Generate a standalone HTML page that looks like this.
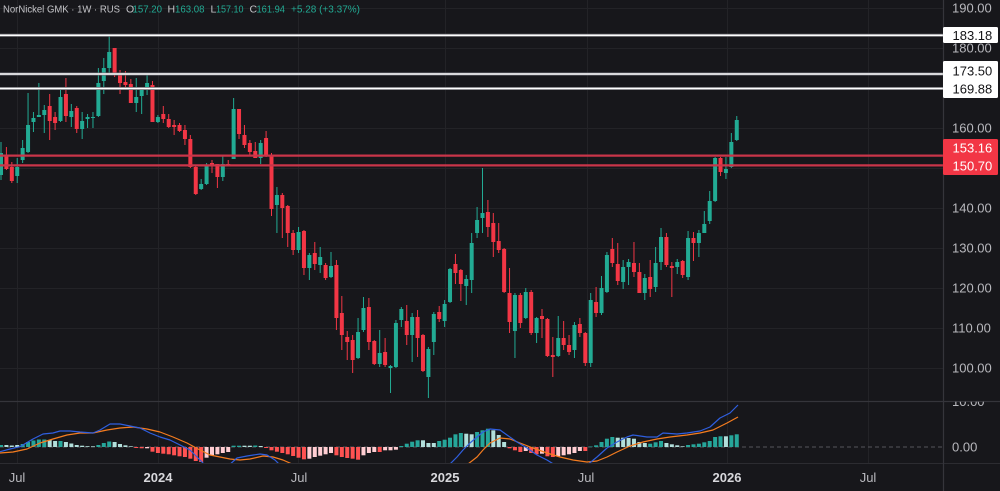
<!DOCTYPE html>
<html><head><meta charset="utf-8">
<style>
html,body{margin:0;padding:0;background:#17171b;width:1000px;height:491px;overflow:hidden}
svg{display:block;font-family:"Liberation Sans",sans-serif}
</style></head><body>
<svg id="c" width="1000" height="491" viewBox="0 0 1000 491" xmlns="http://www.w3.org/2000/svg">
<defs>
<clipPath id="main"><rect x="0" y="0" width="943" height="401"/></clipPath>
<clipPath id="macd"><rect x="0" y="401.5" width="943" height="61.5"/></clipPath>
<clipPath id="macdax"><rect x="944" y="401.8" width="56" height="61"/></clipPath>
</defs>
<rect width="1000" height="491" fill="#17171b"/>
<g stroke="#232327" stroke-width="1">
<line x1="0" y1="8.5" x2="943" y2="8.5"/>
<line x1="0" y1="48.5" x2="943" y2="48.5"/>
<line x1="0" y1="88.5" x2="943" y2="88.5"/>
<line x1="0" y1="128.5" x2="943" y2="128.5"/>
<line x1="0" y1="168.5" x2="943" y2="168.5"/>
<line x1="0" y1="208.5" x2="943" y2="208.5"/>
<line x1="0" y1="248.5" x2="943" y2="248.5"/>
<line x1="0" y1="288.5" x2="943" y2="288.5"/>
<line x1="0" y1="328.5" x2="943" y2="328.5"/>
<line x1="0" y1="368.5" x2="943" y2="368.5"/>
<line x1="17.5" y1="0" x2="17.5" y2="463"/>
<line x1="158.5" y1="0" x2="158.5" y2="463"/>
<line x1="298.5" y1="0" x2="298.5" y2="463"/>
<line x1="445.5" y1="0" x2="445.5" y2="463"/>
<line x1="587.5" y1="0" x2="587.5" y2="463"/>
<line x1="727.5" y1="0" x2="727.5" y2="463"/>
<line x1="868.5" y1="0" x2="868.5" y2="463"/>
</g>
<!-- zero line -->
<line x1="0" y1="447" x2="943" y2="447" stroke="#55555b" stroke-width="1" stroke-dasharray="4 3"/>

<g id="candles" clip-path="url(#main)"></g>

<!-- horizontal levels -->
<g>
<line x1="0" y1="35.3" x2="943" y2="35.3" stroke="#6a6a70" stroke-width="3"/>
<line x1="0" y1="35.3" x2="943" y2="35.3" stroke="#ffffff" stroke-width="1.6"/>
<line x1="0" y1="74" x2="943" y2="74" stroke="#6a6a70" stroke-width="3"/>
<line x1="0" y1="74" x2="943" y2="74" stroke="#ffffff" stroke-width="1.6"/>
<line x1="0" y1="88.5" x2="943" y2="88.5" stroke="#6a6a70" stroke-width="3"/>
<line x1="0" y1="88.5" x2="943" y2="88.5" stroke="#ffffff" stroke-width="1.6"/>
<line x1="0" y1="155.6" x2="943" y2="155.6" stroke="#c93549" stroke-width="2.2"/>
<line x1="0" y1="165.4" x2="943" y2="165.4" stroke="#c93549" stroke-width="2.2"/>
</g>

<g id="hist" clip-path="url(#macd)"></g>
<g id="lines" clip-path="url(#macd)" fill="none" stroke-width="1.2"></g>

<!-- separators -->
<line x1="0" y1="401.5" x2="1000" y2="401.5" stroke="#35353b" stroke-width="1.2"/>
<line x1="0" y1="463.5" x2="1000" y2="463.5" stroke="#2c2c31" stroke-width="1"/>
<line x1="943.5" y1="0" x2="943.5" y2="491" stroke="#35353b" stroke-width="1.2"/>

<!-- header -->
<g font-size="10.5">
<text x="3" y="12.5" fill="#c4c4c8" textLength="117" lengthAdjust="spacingAndGlyphs">NorNickel GMK · 1W · RUS</text>
<text x="126" y="12.5" fill="#c4c4c8">O</text>
<text x="132.5" y="12.5" fill="#22ab94" textLength="29.5" lengthAdjust="spacingAndGlyphs">157.20</text>
<text x="167.5" y="12.5" fill="#c4c4c8">H</text>
<text x="175" y="12.5" fill="#22ab94" textLength="29.5" lengthAdjust="spacingAndGlyphs">163.08</text>
<text x="210.5" y="12.5" fill="#c4c4c8">L</text>
<text x="216" y="12.5" fill="#22ab94" textLength="27.5" lengthAdjust="spacingAndGlyphs">157.10</text>
<text x="249.5" y="12.5" fill="#c4c4c8">C</text>
<text x="256.5" y="12.5" fill="#22ab94" textLength="28.5" lengthAdjust="spacingAndGlyphs">161.94</text>
<text x="291" y="12.5" fill="#22ab94" textLength="69" lengthAdjust="spacingAndGlyphs">+5.28 (+3.37%)</text>
</g>

<!-- right axis -->
<g font-size="13" fill="#b8b8bd">
<text x="952" y="12.6">190.00</text>
<text x="952" y="52.6">180.00</text>
<text x="952" y="132.6">160.00</text>
<text x="952" y="212.6">140.00</text>
<text x="952" y="252.6">130.00</text>
<text x="952" y="292.6">120.00</text>
<text x="952" y="332.6">110.00</text>
<text x="952" y="372.6">100.00</text>
<text x="952" y="451.6">0.00</text>
<text x="952" y="406" clip-path="url(#macdax)">10.00</text>
</g>
<rect x="943" y="27" width="55" height="16" rx="1.5" fill="#ffffff"/>
<text x="952.5" y="39.8" font-size="13" fill="#131316">183.18</text>
<rect x="943" y="61" width="55" height="37" rx="1.5" fill="#ffffff"/>
<text x="952.5" y="75.3" font-size="13" fill="#131316">173.50</text>
<text x="952.5" y="93.6" font-size="13" fill="#131316">169.88</text>
<rect x="943" y="139" width="55" height="36" rx="1.5" fill="#f23645"/>
<text x="952.5" y="152.3" font-size="13" fill="#ffffff">153.16</text>
<text x="952.5" y="170.3" font-size="13" fill="#ffffff">150.70</text>

<!-- time axis -->
<g font-size="13" text-anchor="middle">
<text x="17" y="482" fill="#b8b8bd">Jul</text>
<text x="158" y="482" fill="#d8d8dc" font-weight="bold">2024</text>
<text x="299" y="482" fill="#b8b8bd">Jul</text>
<text x="445" y="482" fill="#d8d8dc" font-weight="bold">2025</text>
<text x="586" y="482" fill="#b8b8bd">Jul</text>
<text x="727" y="482" fill="#d8d8dc" font-weight="bold">2026</text>
<text x="868" y="482" fill="#b8b8bd">Jul</text>
</g>
</svg>
<script>
(function(){
var NS="http://www.w3.org/2000/svg";
var C=[[175,153,142,180],[155,169,147,170],[167,181,162,183],[176,167,158,183],[160,148,140,163],[152,125,93,153],[122,118,112,132],[117,115,83,117],[115,110,105,133],[106,121,94,140],
[117,123,112,130],[121,97,90,122],[94,116,78,122],[117,111,104,127],[108,129,106,133],[129,121,112,139],[119,117,114,128],[118,117,112,128],[116,83,68,117],[81,68,58,94],
[68,52,34,73],[48,75,48,77],[75,83,70,94],[82,85,71,88],[84,103,79,103],[103,97,78,112],[96,89,87,114],[89,83,73,95],[85,122,81,122],[122,117,115,123],
[114,119,106,123],[119,127,114,128],[125,127,120,135],[125,131,123,132],[130,139,125,145],[139,167,135,168],[167,194,165,195],[189,184,179,190],[184,165,163,185],[163,166,160,173],
[164,177,164,188],[177,164,155,181],[164,166,160,166],[159,109,98,159],[109,134,109,139],[135,145,125,148],[143,152,140,155],[151,158,142,158],[158,143,140,164],[138,156,131,157],
[156,209,153,216],[205,195,187,233],[195,208,193,238],[206,233,205,247],[233,250,230,255],[250,232,227,253],[231,268,230,275],[268,255,253,280],[253,264,242,270],[265,257,247,273],
[265,278,263,280],[277,266,252,278],[265,318,260,330],[313,335,296,350],[337,342,331,360],[340,360,335,373],[358,332,318,359],[330,308,297,332],[307,342,298,350],[341,364,340,365],
[364,353,330,367],[352,365,338,367],[368,366,365,393],[367,323,320,368],[320,309,307,327],[321,335,305,345],[335,317,313,362],[317,338,310,357],[335,371,334,372],[377,349,347,398],
[342,314,312,355],[312,319,306,322],[321,304,300,327],[302,269,268,303],[264,273,254,284],[270,284,269,301],[286,279,275,305],[280,243,233,293],[233,220,207,238],[218,213,168,233],
[212,227,200,237],[223,242,213,257],[241,250,223,253],[249,292,248,293],[293,322,268,333],[331,295,293,358],[295,323,293,328],[318,292,288,319],[292,333,290,335],[333,318,317,343],
[316,319,309,338],[319,356,318,357],[355,357,337,377],[356,338,316,357],[338,345,321,350],[345,352,335,355],[350,325,322,358],[324,333,318,337],[333,363,332,366],[363,300,293,367],
[302,313,287,317],[313,288,276,315],[292,255,252,293],[249,263,238,267],[264,281,243,285],[282,267,260,289],[267,262,259,285],[263,272,242,277],[272,293,263,293],[293,278,274,300],
[277,289,260,297],[287,263,247,292],[262,237,228,270],[237,265,233,267],[266,268,262,297],[267,262,259,274],[261,275,260,278],[277,238,231,280],[238,243,232,261],[243,233,230,257],
[233,224,211,233],[221,201,191,224],[201,158,157,202],[158,172,157,176],[173,169,157,179],[167,142,133,168],[140,120,116,141]];
var G="#22ab94",R="#f23645";
var cg=document.getElementById('candles');
function el(n,a,p){var e=document.createElementNS(NS,n);for(var k in a)e.setAttribute(k,a[k]);p.appendChild(e);return e;}
C.forEach(function(d,i){
 var x=1+i*5.41,o=d[0],c=d[1],h=d[2],l=d[3];
 var col=c<o?G:(c>o?R:G);
 el('line',{x1:x,y1:h,x2:x,y2:l,stroke:col,'stroke-width':1},cg);
 var t=Math.min(o,c),b=Math.max(o,c);
 el('rect',{x:x-2,y:t,width:4,height:Math.max(b-t,1),fill:col},cg);
});
var H=[[2,0],[2,1],[1.5,1],[2,1],[3,0],[5,0],[6.5,0],[7.5,0],[7.5,0],[7,1],
[6,1],[6,0],[5,1],[3.5,1],[2,1],[1.3,1],[0.8,1],[0.7,1],[2,0],[4,0],
[5.5,0],[5,1],[3,1],[1.7,1],[0.7,1],[-1,2],[-1.3,2],[-1.3,3],[-4.7,2],[-6,2],
[-6.7,2],[-7.3,2],[-8.3,2],[-9.3,2],[-10,2],[-11.7,2],[-14,2],[-15,2],[-10.7,3],[-8.3,3],
[-7.3,3],[-6,3],[-5,3],[1.3,0],[1.3,0],[1.3,1],[1.3,1],[1.5,0],[1,1],[-1,2],
[-3.3,2],[-4.7,2],[-6,2],[-7.3,2],[-9,2],[-10.7,2],[-12.3,2],[-11.7,3],[-10,3],[-8.7,3],
[-7.3,3],[-6,3],[-8.3,2],[-10,2],[-11,2],[-11.7,2],[-12.7,2],[-8.3,3],[-6,3],[-5,3],
[-5,2],[-3.3,3],[-3.3,3],[-2.7,3],[1,0],[3.3,0],[5.3,0],[6.7,0],[6.7,1],[4,1],
[4,1],[6,0],[7.3,0],[9.3,0],[12.7,0],[14,0],[13.3,1],[12.7,1],[15,0],[16.7,0],
[18.3,0],[16.7,1],[12,1],[5,1],[-1.3,2],[-3.3,2],[-5,2],[-4,3],[-6,2],[-7.3,2],
[-6.7,3],[-9.3,2],[-10,2],[-9.3,3],[-8.3,3],[-7.3,3],[-6,3],[-4,3],[-4,2],[0.5,0],
[1.7,0],[5,0],[8.3,0],[10,0],[9.3,1],[9.3,1],[9,1],[8.3,1],[5,1],[4,1],
[3.3,0],[4.7,0],[6,0],[4,1],[2.7,1],[1.7,1],[0.7,1],[2,0],[2.7,0],[3.3,0],
[4.7,0],[6,0],[10,0],[10.7,0],[10.7,1],[11.7,0],[12.7,0]];
var HC=['#26a69a','#b2dfdb','#ff5252','#ffcdd2'];
var hg=document.getElementById('hist');
H.forEach(function(d,i){
 var x=1+i*5.41,v=d[0];
 var y=v>0?447-v:447,h=Math.abs(v);
 el('rect',{x:x-2,y:y,width:4,height:Math.max(h,0.6),fill:HC[d[1]]},hg);
});
var blue=[[0,451.7],[10,449],[20,446.7],[33,439],[43,434],[53,433],[60,431],[70,431],[80,432],[93,433],[100,430],[110,424],[120,424],[130,426],[140,428],[150,433],[160,437],[170,440],[180,445],[190,450],[197,457],[202,462],[205,465],[215,470],[228,466],[237,458],[247,456],[260,454],[267,455],[275,460],[281,466],[300,475],[440,475],[450,464],[457,457],[463,450],[470,443],[477,437],[483,432],[490,429],[500,430],[507,435],[517,442],[527,448],[537,455],[547,460],[555,465],[570,472],[586,466],[597,457],[607,448],[617,442],[627,437],[633,435],[647,437],[657,437],[663,433],[677,434],[687,433],[700,431],[710,427],[720,418],[730,413],[738,405]];
var orange=[[0,453],[13,452],[27,449],[40,443],[53,439],[67,435],[80,433],[93,433],[107,430],[120,428],[133,427],[147,429],[160,432],[173,437],[187,443],[200,450],[210,455],[220,457],[230,459],[240,460],[250,459],[263,456],[273,457],[283,460],[292,464],[310,470],[455,472],[468,464],[477,457],[483,450],[490,443],[500,438],[510,439],[520,443],[533,448],[547,453],[560,457],[573,460],[587,462],[597,461],[607,457],[617,452],[630,446],[643,442],[657,439],[670,437],[687,435],[700,433],[713,430],[727,423],[738,417]];
var lg=document.getElementById('lines');
function pl(pts,col){el('polyline',{points:pts.map(function(p){return p[0]+','+p[1];}).join(' '),stroke:col,fill:'none','stroke-width':1.2,'stroke-linejoin':'round'},lg);}
pl(orange,'#f57c1f');
pl(blue,'#2f5fe0');
})();
</script>
</body></html>
